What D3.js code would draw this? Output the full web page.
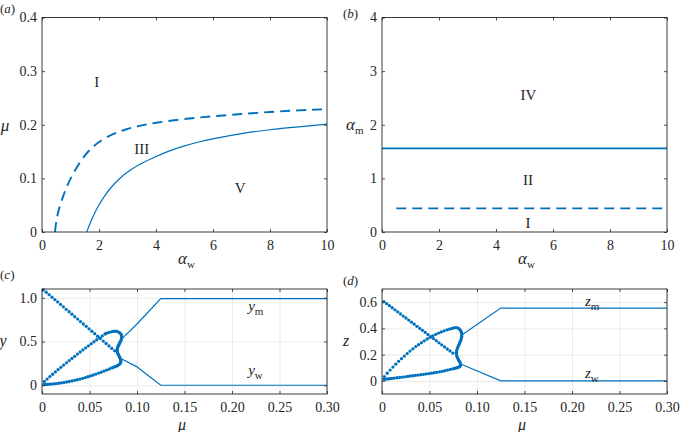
<!DOCTYPE html>
<html><head><meta charset="utf-8">
<script src="https://cdn.jsdelivr.net/npm/d3@7"></script>
<style>
body{margin:0;background:#fff;}
svg text{font-family:"Liberation Serif","Times New Roman",serif;fill:#262626;}
</style></head><body>
<svg id="chart" width="682" height="432" font-family="Liberation Serif, serif"></svg>
<script>
// ---------- tick data ----------
const abXTicks=[0,2,4,6,8,10];
const abXTickLabels=["0","2","4","6","8","10"];
const aYTicks=[0,0.1,0.2,0.3,0.4];
const aYTickLabels=["0","0.1","0.2","0.3","0.4"];
const bYTicks=[0,1,2,3,4];
const bYTickLabels=["0","1","2","3","4"];
const cdXTicks=[0,0.05,0.1,0.15,0.2,0.25,0.3];
const cdXTickLabels=["0","0.05","0.10","0.15","0.20","0.25","0.30"];
const cYTicks=[0,0.5,1.0];
const cYTickLabels=["0","0.5","1.0"];
const dYTicks=[0,0.2,0.4,0.6];
const dYTickLabels=["0","0.2","0.4","0.6"];

// ---------- panel (a) ----------
const aDashAlpha=[0.456,0.5,0.6,0.75,0.87,1.05,1.28,1.5,1.74,2.0,2.27,2.6,2.91,3.4,4,5,6,7,8,9,10];
const aDashMu=[0,0.022,0.045,0.068,0.085,0.105,0.126,0.143,0.157,0.168,0.177,0.185,0.191,0.198,0.204,0.211,0.216,0.220,0.224,0.227,0.229];
const aSolidAlpha=[1.57,1.7,1.85,2.0,2.2,2.4,2.7,3.0,3.4,4,4.5,5,5.5,6,7,8,9,10];
const aSolidMu=[0,0.018,0.036,0.051,0.068,0.082,0.099,0.112,0.126,0.141,0.152,0.161,0.168,0.174,0.184,0.191,0.196,0.201];
const aRegionLabels=["I","III","V"];
const aRegionAlpha=[1.92,3.5,6.95];
const aRegionMu=[0.28,0.156,0.082];

// ---------- panel (b) ----------
const bSolidAlpha=[0,10];
const bSolidAm=[1.56,1.56];
const bDashAlpha=[0.5,10];
const bDashAm=[0.44,0.44];
const bRegionLabels=["IV","II","I"];
const bRegionAlpha=[5.14,5.12,5.12];
const bRegionAm=[2.56,0.97,0.17];

// ---------- panel (c) ----------
const cUpperMu=[0.084,0.1,0.125,0.3];
const cUpperY=[0.53,0.70,0.99,0.99];
const cLowerMu=[0.084,0.1,0.11,0.125,0.3];
const cLowerY=[0.30,0.21,0.125,0,0];
const cDescMu=[0.0015,0.0045,0.0075,0.0105,0.0135,0.0165,0.0195,0.0225,0.0255,0.0285,0.0315,0.0345,0.0375,0.0405,0.0435,0.0465,0.0495,0.0525,0.0555,0.0585,0.0615,0.0645,0.0675,0.0705,0.0735,0.0765];
const cDescY=[1.091,1.063,1.035,1.007,0.979,0.952,0.924,0.896,0.868,0.840,0.812,0.784,0.756,0.728,0.700,0.673,0.645,0.617,0.589,0.561,0.533,0.505,0.477,0.449,0.421,0.394];
const cAscMu=[0.0025,0.0054,0.0083,0.0112,0.0141,0.017,0.0199,0.0228,0.0257,0.0286,0.0315,0.0344,0.0373,0.0402,0.0431,0.046,0.0489,0.0518,0.0547,0.0576,0.0605,0.0634,0.0663];
const cAscY=[0.044,0.071,0.099,0.126,0.152,0.179,0.205,0.231,0.256,0.282,0.307,0.331,0.356,0.380,0.404,0.428,0.451,0.474,0.497,0.520,0.542,0.564,0.586];
const cFoldMu=[0.068,0.0705,0.073,0.075,0.0768,0.0785,0.080,0.0815,0.0826,0.0834,0.0838,0.0839,0.0837,0.0833,0.0827,0.082,0.0813,0.0806,0.08,0.0795,0.0792,0.0791,0.0793,0.0797,0.0803,0.081,0.0817,0.0823,0.0828,0.083,0.0829,0.0825,0.0818,0.0808,0.0796,0.0782,0.0767,0.0751];
const cFoldY=[0.595,0.604,0.611,0.616,0.618,0.616,0.611,0.602,0.591,0.577,0.562,0.547,0.532,0.517,0.502,0.487,0.472,0.457,0.442,0.427,0.412,0.397,0.382,0.367,0.352,0.337,0.322,0.308,0.294,0.280,0.266,0.253,0.242,0.233,0.225,0.218,0.212,0.205];
const cLowMu=[0.0735,0.0708,0.068,0.0652,0.0624,0.0596,0.0568,0.054,0.0512,0.0484,0.0456,0.0428,0.04,0.0372,0.0344,0.0316,0.0288,0.026,0.0232,0.0204,0.0176,0.0148,0.0122,0.0098,0.0076,0.0056,0.0038,0.0022];
const cLowY=[0.198,0.186,0.174,0.162,0.150,0.139,0.128,0.117,0.107,0.097,0.088,0.079,0.071,0.063,0.056,0.049,0.043,0.037,0.032,0.027,0.023,0.019,0.016,0.014,0.012,0.011,0.010,0.009];
const cCurveSubs=["m","w"];
const cCurveMu=[0.217,0.217];
const cCurveY=[0.847,0.122];

// ---------- panel (d) ----------
const dUpperMu=[0.084,0.125,0.3];
const dUpperZ=[0.35,0.555,0.555];
const dLowerMu=[0.084,0.125,0.3];
const dLowerZ=[0.125,0,0];
const dDescMu=[0.002,0.0049,0.0078,0.0107,0.0136,0.0165,0.0194,0.0223,0.0252,0.0281,0.031,0.0339,0.0368,0.0397,0.0426,0.0455,0.0484,0.0513,0.0542,0.0571,0.06,0.0629,0.0658,0.0687,0.0716,0.0745];
const dDescZ=[0.604,0.588,0.573,0.557,0.541,0.526,0.510,0.494,0.479,0.463,0.447,0.432,0.416,0.400,0.385,0.369,0.353,0.337,0.322,0.306,0.290,0.275,0.259,0.243,0.228,0.212];
const dAscMu=[0.0025,0.0055,0.0085,0.0115,0.0145,0.0175,0.0205,0.0235,0.0265,0.0295,0.0325,0.0355,0.0385,0.0415,0.0445,0.0475,0.0505,0.0535,0.0565,0.0595,0.0625,0.0655,0.0685,0.0712,0.0735];
const dAscZ=[0.033,0.058,0.082,0.105,0.127,0.149,0.169,0.189,0.208,0.227,0.244,0.261,0.276,0.291,0.305,0.319,0.331,0.343,0.354,0.364,0.373,0.381,0.389,0.395,0.399];
const dFoldMu=[0.0758,0.0778,0.0795,0.081,0.0822,0.0831,0.0837,0.084,0.0839,0.0836,0.0831,0.0825,0.0818,0.0811,0.0804,0.0797,0.0791,0.0786,0.0783,0.0783,0.0786,0.0791,0.0798,0.0806,0.0814,0.0821,0.0826,0.0827,0.0823,0.0814,0.0802,0.0788,0.0773,0.0758];
const dFoldZ=[0.404,0.406,0.404,0.398,0.389,0.378,0.366,0.353,0.340,0.327,0.314,0.302,0.290,0.278,0.266,0.254,0.242,0.230,0.218,0.206,0.194,0.182,0.171,0.160,0.150,0.140,0.130,0.121,0.113,0.107,0.103,0.100,0.097,0.094];
const dLowMu=[0.0745,0.0718,0.069,0.0662,0.0634,0.0606,0.0578,0.055,0.0522,0.0494,0.0466,0.0438,0.041,0.0382,0.0354,0.0326,0.0298,0.027,0.0242,0.0214,0.0186,0.0158,0.013,0.0105,0.0082,0.006,0.004,0.0022];
const dLowZ=[0.092,0.087,0.082,0.077,0.073,0.069,0.065,0.062,0.059,0.056,0.053,0.050,0.047,0.044,0.042,0.039,0.037,0.034,0.031,0.029,0.026,0.024,0.021,0.019,0.017,0.015,0.013,0.012];
const dCurveSubs=["m","w"];
const dCurveMu=[0.2137,0.2137];
const dCurveZ=[0.567,0.023];

// ---------- drawing ----------
const svg=d3.select("#chart");
const BLUE="#0072BD", AX="#262626";
const SERIF='"Liberation Serif","Times New Roman",serif';
const zip=(a,b)=>a.map((v,i)=>[v,b[i]]);

function panel(p){
  const x=d3.scaleLinear().domain(p.xd).range([p.l,p.r]);
  const y=d3.scaleLinear().domain(p.yd).range([p.b,p.t]);
  const g=svg.append("g");
  if(p.grid){
    const gx=g.append("g").attr("transform",`translate(0,${p.b})`)
      .call(d3.axisBottom(x).tickValues(p.xt).tickSize(-(p.b-p.t)).tickFormat(""));
    const gy=g.append("g").attr("transform",`translate(${p.l},0)`)
      .call(d3.axisLeft(y).tickValues(p.yt).tickSize(-(p.r-p.l)).tickFormat(""));
    [gx,gy].forEach(s=>{s.select(".domain").remove();s.selectAll("line").attr("stroke","#e6e6e6").attr("stroke-width",0.8);});
  }
  const dataG=svg.append("g");
  const axG=svg.append("g");
  const fmt=(labels)=>(d,i)=>labels[i];
  const bottom=axG.append("g").attr("transform",`translate(0,${p.b})`)
    .call(d3.axisBottom(x).tickValues(p.xt).tickFormat(fmt(p.xl)).tickSizeInner(-3).tickSizeOuter(0).tickPadding(8));
  const top=axG.append("g").attr("transform",`translate(0,${p.t})`)
    .call(d3.axisTop(x).tickValues(p.xt).tickFormat("").tickSizeInner(-3).tickSizeOuter(0));
  const left=axG.append("g").attr("transform",`translate(${p.l},0)`)
    .call(d3.axisLeft(y).tickValues(p.yt).tickFormat(fmt(p.yl)).tickSizeInner(-3).tickSizeOuter(0).tickPadding(5));
  const right=axG.append("g").attr("transform",`translate(${p.r},0)`)
    .call(d3.axisRight(y).tickValues(p.yt).tickFormat("").tickSizeInner(-3).tickSizeOuter(0));
  [bottom,top,left,right].forEach(s=>{
    s.attr("font-family",SERIF).attr("font-size",14);
    s.select(".domain").remove();
    s.selectAll("line").attr("stroke",AX).attr("stroke-width",0.8);
    s.selectAll("text").attr("font-size",14).attr("fill",AX).style("font-family",SERIF);
  });
  axG.append("rect").attr("x",p.l).attr("y",p.t).attr("width",p.r-p.l).attr("height",p.b-p.t)
    .attr("fill","none").attr("stroke",AX).attr("stroke-width",0.9);
  return {x,y,g:dataG};
}

function subLabel(parent,xp,yp,base,sub,size,subSize,anchor){
  const t=parent.append("text").attr("x",xp).attr("y",yp).attr("text-anchor",anchor||"start");
  t.append("tspan").text(base).attr("font-size",size).attr("font-style","italic");
  t.append("tspan").text(sub).attr("font-size",subSize).attr("dy",4);
  return t;
}
function panelLabel(xp,yp,letter){
  const t=svg.append("text").attr("x",xp).attr("y",yp).attr("font-size",13);
  t.append("tspan").text("(");
  t.append("tspan").text(letter).attr("font-style","italic");
  t.append("tspan").text(")");
}

// Panel (a)
{
  const P=panel({l:42,r:327,t:17.5,b:232,xd:[0,10],yd:[0,0.4],xt:abXTicks,xl:abXTickLabels,yt:aYTicks,yl:aYTickLabels,grid:false});
  const line=d3.line().x(d=>P.x(d[0])).y(d=>P.y(d[1])).curve(d3.curveBasis);
  P.g.append("path").attr("d",line(zip(aDashAlpha,aDashMu))).attr("fill","none").attr("stroke",BLUE).attr("stroke-width",1.9).attr("stroke-dasharray","10,6");
  P.g.append("path").attr("d",line(zip(aSolidAlpha,aSolidMu))).attr("fill","none").attr("stroke",BLUE).attr("stroke-width",1.2);
  P.g.selectAll("text.reg").data(aRegionLabels).join("text").attr("class","reg")
    .attr("x",(d,i)=>P.x(aRegionAlpha[i])).attr("y",(d,i)=>P.y(aRegionMu[i])).attr("dy","0.35em")
    .attr("text-anchor","middle").attr("font-size",15).text(d=>d);
  subLabel(svg,178,264,"α","w",17,11,"start");
  svg.append("text").attr("x",5).attr("y",131).attr("text-anchor","middle").attr("font-size",17).attr("font-style","italic").text("μ");
  panelLabel(0,13,"a");
}
// Panel (b)
{
  const P=panel({l:382,r:667,t:17.5,b:232,xd:[0,10],yd:[0,4],xt:abXTicks,xl:abXTickLabels,yt:bYTicks,yl:bYTickLabels,grid:false});
  const line=d3.line().x(d=>P.x(d[0])).y(d=>P.y(d[1]));
  P.g.append("path").attr("d",line(zip(bSolidAlpha,bSolidAm))).attr("fill","none").attr("stroke",BLUE).attr("stroke-width",1.9);
  P.g.append("path").attr("d",line(zip(bDashAlpha,bDashAm))).attr("fill","none").attr("stroke",BLUE).attr("stroke-width",1.9).attr("stroke-dasharray","10,6");
  P.g.selectAll("text.reg").data(bRegionLabels).join("text").attr("class","reg")
    .attr("x",(d,i)=>P.x(bRegionAlpha[i])).attr("y",(d,i)=>P.y(bRegionAm[i])).attr("dy","0.35em")
    .attr("text-anchor","middle").attr("font-size",15).text(d=>d);
  subLabel(svg,518,264,"α","w",17,11,"start");
  subLabel(svg,346,130,"α","m",17,11,"start");
  panelLabel(343,18,"b");
}
// Panel (c)
{
  const P=panel({l:42,r:327,t:289,b:394,xd:[0,0.3],yd:[-0.1,1.1],xt:cdXTicks,xl:cdXTickLabels,yt:cYTicks,yl:cYTickLabels,grid:true});
  const line=d3.line().x(d=>P.x(d[0])).y(d=>P.y(d[1]));
  P.g.append("path").attr("d",line(zip(cUpperMu,cUpperY))).attr("fill","none").attr("stroke",BLUE).attr("stroke-width",1.2);
  P.g.append("path").attr("d",line(zip(cLowerMu,cLowerY))).attr("fill","none").attr("stroke",BLUE).attr("stroke-width",1.2);
  const pts=[].concat(zip(cDescMu,cDescY),zip(cAscMu,cAscY),zip(cFoldMu,cFoldY),zip(cLowMu,cLowY));
  P.g.selectAll("circle").data(pts).join("circle").attr("cx",d=>P.x(d[0])).attr("cy",d=>P.y(d[1])).attr("r",1.65).attr("fill",BLUE);
  cCurveSubs.forEach((s,i)=>subLabel(P.g,P.x(cCurveMu[i]),P.y(cCurveY[i]),"y",s,15,11,"start"));
  svg.append("text").attr("x",182).attr("y",430).attr("text-anchor","middle").attr("font-size",16).attr("font-style","italic").text("μ");
  svg.append("text").attr("x",3).attr("y",346).attr("text-anchor","middle").attr("font-size",16).attr("font-style","italic").text("y");
  panelLabel(0,279,"c");
}
// Panel (d)
{
  const P=panel({l:382,r:667,t:289,b:394,xd:[0,0.3],yd:[-0.1,0.7],xt:cdXTicks,xl:cdXTickLabels,yt:dYTicks,yl:dYTickLabels,grid:true});
  const line=d3.line().x(d=>P.x(d[0])).y(d=>P.y(d[1]));
  P.g.append("path").attr("d",line(zip(dUpperMu,dUpperZ))).attr("fill","none").attr("stroke",BLUE).attr("stroke-width",1.2);
  P.g.append("path").attr("d",line(zip(dLowerMu,dLowerZ))).attr("fill","none").attr("stroke",BLUE).attr("stroke-width",1.2);
  const pts=[].concat(zip(dDescMu,dDescZ),zip(dAscMu,dAscZ),zip(dFoldMu,dFoldZ),zip(dLowMu,dLowZ));
  P.g.selectAll("circle").data(pts).join("circle").attr("cx",d=>P.x(d[0])).attr("cy",d=>P.y(d[1])).attr("r",1.65).attr("fill",BLUE);
  dCurveSubs.forEach((s,i)=>subLabel(P.g,P.x(dCurveMu[i]),P.y(dCurveZ[i]),"z",s,15,11,"start"));
  svg.append("text").attr("x",522).attr("y",430).attr("text-anchor","middle").attr("font-size",16).attr("font-style","italic").text("μ");
  svg.append("text").attr("x",346).attr("y",346).attr("text-anchor","middle").attr("font-size",16).attr("font-style","italic").text("z");
  panelLabel(343,285,"d");
}
</script>
</body></html>
